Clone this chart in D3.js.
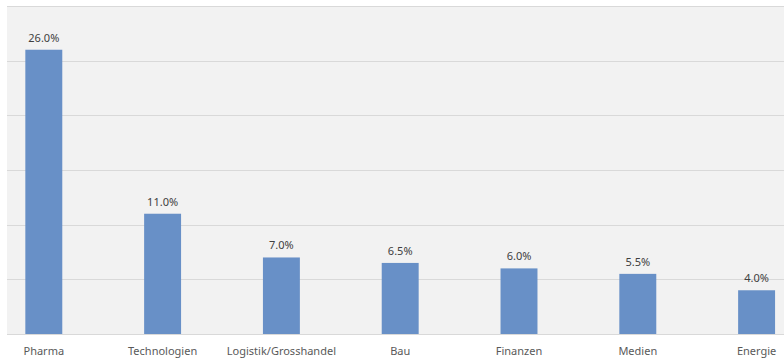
<!DOCTYPE html>
<html lang="de">
<head>
    <meta charset="utf-8">
    <title>Branchen</title>
    <script src="https://cdn.jsdelivr.net/npm/d3@7"></script>
    <style>
        body { margin: 0; background: #fff; }
        text { font-family: "Noto Sans", "Open Sans", sans-serif; }
    </style>
</head>
<body>
    <script>
        // data
        var categories = ["Pharma", "Technologien", "Logistik/Grosshandel", "Bau", "Finanzen", "Medien", "Energie"];
        var values = [26.0, 11.0, 7.0, 6.5, 6.0, 5.5, 4.0];
        var yTicks = [0, 5, 10, 15, 20, 25, 30];

        var w = 784, h = 358;
        var plotLeft = 7, plotTop = 6, plotBottom = 334;

        var svg = d3.select("body").append("svg")
            .attr("width", w)
            .attr("height", h);

        // x: the plot is wider than the picture, cropped at both sides
        var x = d3.scaleBand()
            .domain(categories)
            .range([-15.6, 816])
            .paddingInner(0.689)
            .paddingOuter(0.3445);

        var y = d3.scaleLinear()
            .domain([0, 30])
            .range([plotBottom, plotTop]);

        // plot background
        svg.append("rect")
            .attr("x", plotLeft)
            .attr("y", plotTop)
            .attr("width", w - plotLeft)
            .attr("height", plotBottom - plotTop)
            .attr("fill", "#f2f2f2");

        // gridlines
        svg.selectAll("line.grid")
            .data(yTicks)
            .enter()
            .append("line")
            .attr("class", "grid")
            .attr("x1", plotLeft)
            .attr("x2", w)
            .attr("y1", function(d) { return Math.round(y(d)) + 0.5; })
            .attr("y2", function(d) { return Math.round(y(d)) + 0.5; })
            .attr("stroke", "#d9d9d9")
            .attr("stroke-width", 1);

        // bars
        svg.selectAll("rect.bar")
            .data(values)
            .enter()
            .append("rect")
            .attr("class", "bar")
            .attr("x", function(d, i) { return x(categories[i]); })
            .attr("y", function(d) { return y(d); })
            .attr("width", x.bandwidth())
            .attr("height", function(d) { return y(0) - y(d); })
            .attr("fill", "#6890c7");

        // value labels
        svg.selectAll("text.val")
            .data(values)
            .enter()
            .append("text")
            .attr("class", "val")
            .attr("x", function(d, i) { return x(categories[i]) + x.bandwidth() / 2; })
            .attr("y", function(d) { return y(d) - 8; })
            .attr("text-anchor", "middle")
            .attr("font-size", "11px")
            .attr("fill", "#404040")
            .text(function(d) { return d.toFixed(1) + "%"; });

        // category labels
        svg.selectAll("text.cat")
            .data(categories)
            .enter()
            .append("text")
            .attr("class", "cat")
            .attr("x", function(d) { return x(d) + x.bandwidth() / 2; })
            .attr("y", 355)
            .attr("text-anchor", "middle")
            .attr("font-size", "11px")
            .attr("fill", "#595959")
            .text(function(d) { return d; });
    </script>
</body>
</html>
